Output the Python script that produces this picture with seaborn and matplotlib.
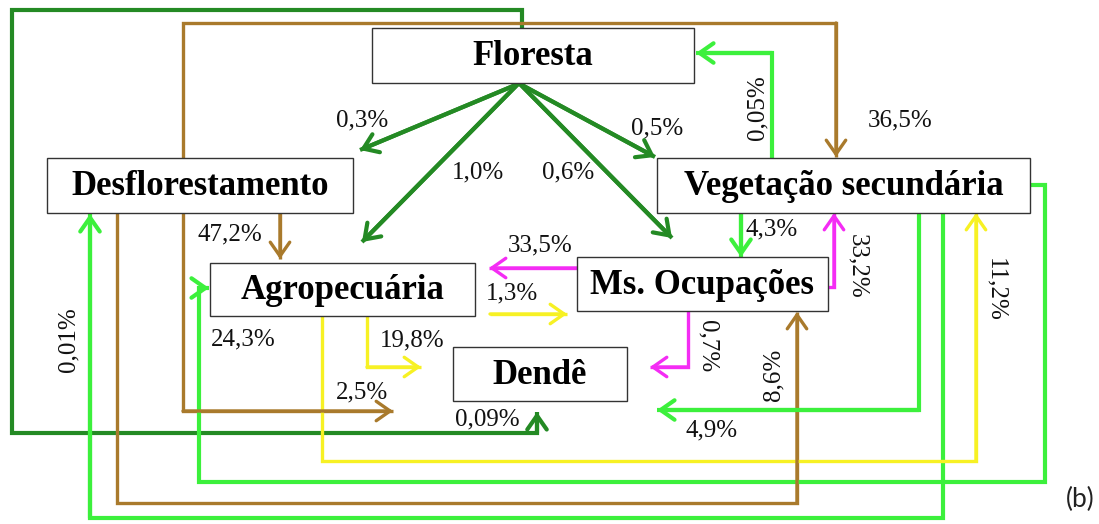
import matplotlib
matplotlib.use("Agg")
import matplotlib.pyplot as plt
import seaborn as sns
from matplotlib.patches import Rectangle

# land-use classes (boxes)
nodes = ["Floresta", "Desflorestamento", "Vegetação secundária",
         "Agropecuária", "Ms. Ocupações", "Dendê"]

# transitions: origin -> destination, share
flow_from = (["Floresta"] * 5 + ["Desflorestamento"] * 4
             + ["Vegetação secundária"] * 5 + ["Agropecuária"] * 3
             + ["Ms. Ocupações"] * 3)
flow_to = ["Desflorestamento", "Agropecuária", "Ms. Ocupações", "Vegetação secundária", "Dendê",
           "Agropecuária", "Dendê", "Vegetação secundária", "Ms. Ocupações",
           "Floresta", "Ms. Ocupações", "Dendê", "Desflorestamento", "Agropecuária",
           "Ms. Ocupações", "Dendê", "Vegetação secundária",
           "Agropecuária", "Vegetação secundária", "Dendê"]
flow_pct = ["0,3%", "1,0%", "0,6%", "0,5%", "0,09%",
            "47,2%", "2,5%", "36,5%", "8,6%",
            "0,05%", "4,3%", "4,9%", "0,01%", "24,3%",
            "1,3%", "19,8%", "11,2%",
            "33,5%", "33,2%", "0,7%"]

# ---- layout (pixel space of the 1099x524 canvas) ----
box_xy = {
    "Floresta": (372, 28, 694, 83),
    "Desflorestamento": (47, 158, 353, 213),
    "Vegetação secundária": (657, 158, 1030, 213),
    "Agropecuária": (210, 263, 475, 316),
    "Ms. Ocupações": (577, 257, 828, 311),
    "Dendê": (453, 347, 627, 401),
}
node_color = {
    "Floresta": "#248a24",
    "Desflorestamento": "#a97a2c",
    "Vegetação secundária": "#3cf03c",
    "Agropecuária": "#f7f124",
    "Ms. Ocupações": "#f42cf4",
}
routes = [
    [(518, 84), (360, 150)],
    [(518, 84), (362, 242)],
    [(520, 84), (672, 238)],
    [(520, 84), (655, 157)],
    [(522, 28), (522, 10), (12, 10), (12, 433), (537, 433), (537, 412)],
    [(280, 213), (280, 259)],
    [(183, 213), (183, 411), (393, 411)],
    [(183, 158), (183, 23), (836, 23), (836, 157)],
    [(117, 213), (117, 503), (797, 503), (797, 312)],
    [(772, 158), (772, 53), (696, 53)],
    [(741, 213), (741, 257)],
    [(919, 213), (919, 410), (657, 410)],
    [(943, 213), (943, 518), (90, 518), (90, 214)],
    [(1030, 185), (1045, 185), (1045, 482), (199, 482), (199, 288), (209, 288)],
    [(490, 314), (567, 314)],
    [(367, 316), (367, 367), (421, 367)],
    [(322, 316), (322, 461), (976, 461), (976, 213)],
    [(577, 268), (489, 268)],
    [(828, 287), (834, 287), (834, 213)],
    [(688, 311), (688, 367), (650, 367)],
]
label_at = [
    (362, 120, 0), (478, 172, 0), (568, 172, 0), (657, 128, 0), (487, 419, 0),
    (230, 234, 0), (362, 392, 0), (900, 120, 0), (773, 375, 90),
    (757, 108, 90), (772, 229, 0), (712, 430, 0), (68, 340, 90), (243, 339, 0),
    (512, 293, 0), (412, 340, 0), (995, 290, -90),
    (540, 245, 0), (857, 266, -90), (708, 346, -90),
]

sns.set_theme(style="white")
plt.rcParams["font.family"] = ["Liberation Serif", "DejaVu Serif"]

fig, ax = plt.subplots(figsize=(10.99, 5.24), dpi=100)
fig.subplots_adjust(left=0, right=1, bottom=0, top=1)

for src, pts in zip(flow_from, routes):
    col = node_color[src]
    lw = 3.0 if src in ("Floresta", "Vegetação secundária") else 2.4
    xs = [p[0] for p in pts]
    ys = [p[1] for p in pts]
    sns.lineplot(x=xs, y=ys, sort=False, estimator=None, ax=ax, color=col,
                 linewidth=lw, solid_joinstyle="miter", solid_capstyle="butt", zorder=2)
    ax.annotate("", xy=pts[-1], xytext=pts[-2],
                arrowprops=dict(arrowstyle="->,head_length=0.5,head_width=0.35",
                                color=col, lw=lw, shrinkA=0, shrinkB=0,
                                mutation_scale=20), zorder=3)

for pct, (lx, ly, rot) in zip(flow_pct, label_at):
    ax.text(lx, ly, pct, fontsize=18, ha="center", va="center",
            rotation=rot, color="#111111", zorder=5)

for name in nodes:
    x0, y0, x1, y1 = box_xy[name]
    ax.add_patch(Rectangle((x0, y0), x1 - x0, y1 - y0, facecolor="white",
                           edgecolor="#333333", linewidth=1.0, zorder=4))
    ax.text((x0 + x1) / 2, (y0 + y1) / 2 + 1, name, fontsize=25, fontweight="bold",
            ha="center", va="center", color="black", zorder=5)

ax.text(1080, 499, "(b)", fontsize=19, ha="center", va="center",
        family=["Lato", "DejaVu Sans"], color="#222222")

ax.set_xlim(0, 1099)
ax.set_ylim(524, 0)
ax.axis("off")
fig.savefig("out.png", dpi=100)
